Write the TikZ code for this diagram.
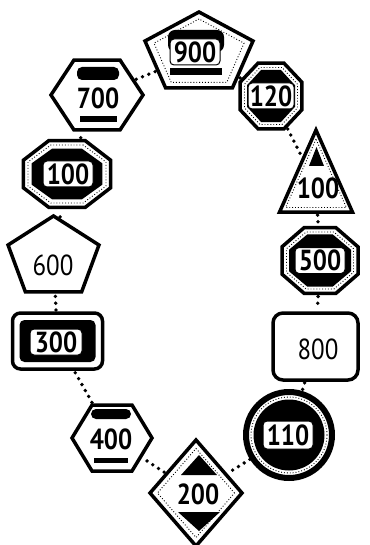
\documentclass[tikz,border=0pt]{standalone}
\usepackage{fontspec}
\setmainfont{PT Sans}[FakeStretch=0.86]
\usetikzlibrary{shapes.geometric}
\begin{document}
\begin{tikzpicture}[x=1pt,y=1pt,
  sign/.style={draw=black, fill=white, line width=3.5pt, inner sep=0pt, outer sep=0pt},
  poly/.style={regular polygon, regular polygon sides=#1},
  blk/.style={fill=black, draw=none, inner sep=0pt, outer sep=0pt},
  ring/.style={draw=black, line width=0.9pt, dotted, inner sep=0pt, outer sep=0pt},
  wbox/.style={fill=white, draw=black, line width=1pt, rounded corners=4pt, inner sep=0pt, outer sep=0pt},
  lab/.style={font=\fontsize{29}{29}\selectfont\bfseries, inner sep=0pt},
  labr/.style={font=\fontsize{29}{29}\selectfont, inner sep=0pt},
  link/.style={line width=3.8pt, line cap=round, dash pattern=on 0pt off 6.8pt, shorten >=3pt, shorten <=3pt}
]
\fill[white] (0,0) rectangle (369,-545);
\useasboundingbox (0,0) rectangle (369,-545);

% 900 pentagon
\node[sign, poly=5, minimum size=84pt, shift={(199,-54)}, xscale=1.352, transform shape] (s900) at (0,0) {};
\node[ring, poly=5, minimum size=70pt, shift={(199,-54)}, xscale=1.352, transform shape] (r900) at (0,0) {};
\fill[rounded corners=7pt] (168,-30) rectangle (224,-52);
\fill (170,-68) rectangle (222,-75);
\node[wbox, lab, minimum width=50pt, minimum height=26pt] (t900) at (195,-52) {900};

% 700 hexagon
\node[sign, poly=6, minimum size=80.8pt, shift={(97,-95)}, xscale=1.139, transform shape] (s700) at (0,0) {};
\fill[rounded corners=5pt] (77,-67) rectangle (119,-80);
\fill (80,-116) rectangle (117,-122);
\node[lab] (t700) at (98,-98) {700};

% 120 octagon
\node[sign, poly=8, minimum size=71.4pt, shift={(271,-96)}, xscale=0.939, transform shape] (s120) at (0,0) {};
\node[ring, poly=8, minimum size=61.7pt, shift={(271,-96)}, xscale=0.930, transform shape] (r120) at (0,0) {};
\node[blk, poly=8, minimum size=56.3pt, shift={(271,-96)}, xscale=0.923, transform shape] (k120) at (0,0) {};
\node[wbox, lab, minimum width=46pt, minimum height=26pt] (t120) at (271,-96) {120};

% 100 octagon (left)
\node[sign, poly=8, minimum size=72.5pt, shift={(67,-174)}, xscale=1.299, transform shape] (s100) at (0,0) {};
\node[ring, poly=8, minimum size=62.8pt, shift={(67,-174)}, xscale=1.345, transform shape] (r100) at (0,0) {};
\node[blk, poly=8, minimum size=55.2pt, shift={(67,-174)}, xscale=1.392, transform shape] (k100) at (0,0) {};
\node[wbox, lab, minimum width=50pt, minimum height=26pt] (t100) at (68,-174) {100};

% triangle 100
\node[sign, poly=3, minimum size=109.3pt, shift={(316,-184.7)}, xscale=0.77, transform shape] (stri) at (0,0) {};
\node[ring, poly=3, minimum size=91pt, shift={(316,-184.7)}, xscale=0.77, transform shape] (rtri) at (0,0) {};
\fill (316.5,-147) -- (324,-166) -- (309,-166) -- cycle;
\node[lab] (ttri) at (318,-188) {100};

% 600 pentagon
\node[sign, poly=5, minimum size=84pt, shift={(53.5,-258)}, xscale=1.138, transform shape] (s600) at (0,0) {};
\node[labr] (t600) at (53,-265) {600};

% 500 octagon
\node[sign, poly=8, minimum size=71.4pt, shift={(320,-260.5)}, xscale=1.152, transform shape] (s500) at (0,0) {};
\node[ring, poly=8, minimum size=61.7pt, shift={(320,-260.5)}, xscale=1.175, transform shape] (r500) at (0,0) {};
\node[blk, poly=8, minimum size=56.3pt, shift={(320,-260.5)}, xscale=1.192, transform shape] (k500) at (0,0) {};
\node[wbox, lab, minimum width=50pt, minimum height=26pt] (t500) at (320,-260.5) {500};

% 300 rounded rectangle
\node[sign, rectangle, rounded corners=8pt, minimum width=90pt, minimum height=56pt] (s300) at (57.5,-341) {};
\node[blk, rectangle, rounded corners=5pt, minimum width=76pt, minimum height=42pt] (k300) at (57.5,-341) {};
\node[wbox, lab, minimum width=52pt, minimum height=26pt] (t300) at (56,-342) {300};

% 800 rounded rectangle
\node[sign, rectangle, rounded corners=10pt, minimum width=85pt, minimum height=67pt] (s800) at (315.5,-346.5) {};
\node[labr] (t800) at (318,-349) {800};

% 400 hexagon
\node[sign, poly=6, minimum size=76.2pt, shift={(112,-438)}, xscale=1.05, transform shape] (s400) at (0,0) {};
\fill[rounded corners=5pt] (91,-409) rectangle (131,-419);
\fill (94,-458) rectangle (128,-463);
\node[lab] (t400) at (111,-439) {400};

% 110 circle
\node[circle, draw=black, fill=white, line width=6pt, inner sep=0pt, outer sep=0pt, minimum size=86pt] (s110) at (289,-435) {};
\node[ring, circle, minimum size=76pt] (r110) at (289,-435) {};
\node[blk, circle, minimum size=71pt] (k110) at (289,-435) {};
\node[wbox, lab, minimum width=50pt, minimum height=28pt] (t110) at (288,-435) {110};

% 200 diamond
\node[sign, diamond, minimum width=92pt, minimum height=106pt] (s200) at (196,-493) {};
\node[ring, diamond, minimum width=77pt, minimum height=89pt] (r200) at (196,-493) {};
\fill (199,-455) -- (217,-475) -- (181,-475) -- cycle;
\fill (178,-512) -- (220,-512) -- (199,-531) -- cycle;
\node[lab] (t200) at (198,-494) {200};

% dotted connectors
\draw[link] (s900) -- (s120);
\draw[link] (s120) -- (stri);
\draw[link] (stri) -- (s500);
\draw[link] (s500) -- (s800);
\draw[link] (s800) -- (s110);
\draw[link] (s110) -- (s200);
\draw[link] (s200) -- (s400);
\draw[link] (s400) -- (s300);
\draw[link] (s300) -- (s600);
\draw[link] (s600) -- (s100);
\draw[link] (s100) -- (s700);
\draw[link] (s700) -- (s900);
\end{tikzpicture}
\end{document}
